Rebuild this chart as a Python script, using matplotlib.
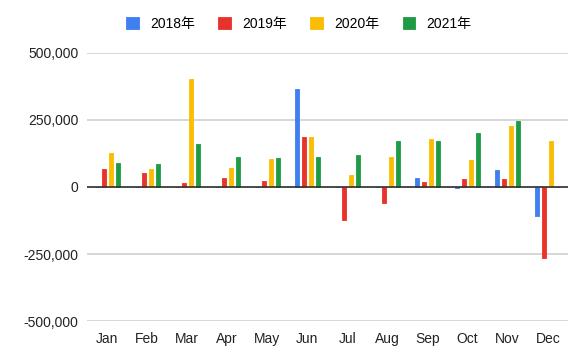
import numpy as np
import matplotlib.pyplot as plt
from matplotlib.ticker import FuncFormatter

plt.rcParams['font.family'] = ['Liberation Sans', 'Noto Sans CJK SC', 'DejaVu Sans']

months = ['Jan', 'Feb', 'Mar', 'Apr', 'May', 'Jun', 'Jul', 'Aug', 'Sep', 'Oct', 'Nov', 'Dec']
years = ['2018年', '2019年', '2020年', '2021年']
colors = ['#3f7ff0', '#e8332b', '#fbbc04', '#1f9a45']

# values (0 = no bar)
v2018 = [0, 0, 0, 0, 0, 364000, 0, 0, 34000, -5000, 62000, -108000]
v2019 = [66000, 53000, 16000, 32000, 24000, 188000, -122000, -58000, 20000, 29000, 29000, -265000]
v2020 = [128000, 66000, 402000, 71000, 104000, 188000, 45000, 113000, 180000, 101000, 226000, 172000]
v2021 = [91000, 87000, 162000, 112000, 108000, 112000, 121000, 172000, 172000, 200000, 247000, 0]
series = [v2018, v2019, v2020, v2021]

fig = plt.figure(figsize=(5.86, 3.62), dpi=100)
ax = fig.add_axes([0.1485, 0.113, 0.8205, 0.741])

x = np.arange(len(months))
step = 0.175
w = 0.1
for i, vals in enumerate(series):
    pos = x + (i - 1.5) * step
    ax.bar(pos, vals, width=w, color=colors[i], edgecolor=colors[i],
           linewidth=0.6, joinstyle='round', label=years[i], zorder=3)

ax.set_xlim(-0.5, len(months) - 0.5)
ax.set_ylim(-500000, 500000)
ax.set_yticks([-500000, -250000, 0, 250000, 500000])
ax.yaxis.set_major_formatter(FuncFormatter(lambda v, p: f'{int(v):,}'))
ax.set_xticks(x)
ax.set_xticklabels(months)
ax.grid(axis='y', color='#d0d0d0', linewidth=1.2, zorder=0)
ax.axhline(0, color='#333333', linewidth=1.2, zorder=4)
for s in ax.spines.values():
    s.set_visible(False)
ax.tick_params(length=0, labelsize=10, colors='#222222')
ax.tick_params(axis='x', pad=8)
ax.tick_params(axis='y', pad=6)

fig.legend(loc='center', bbox_to_anchor=(0.51, 0.935), ncol=4, frameon=False,
           fontsize=10, handlelength=0.9, handleheight=0.9, columnspacing=1.7,
           handletextpad=0.8)

fig.savefig('out.png', dpi=100)
